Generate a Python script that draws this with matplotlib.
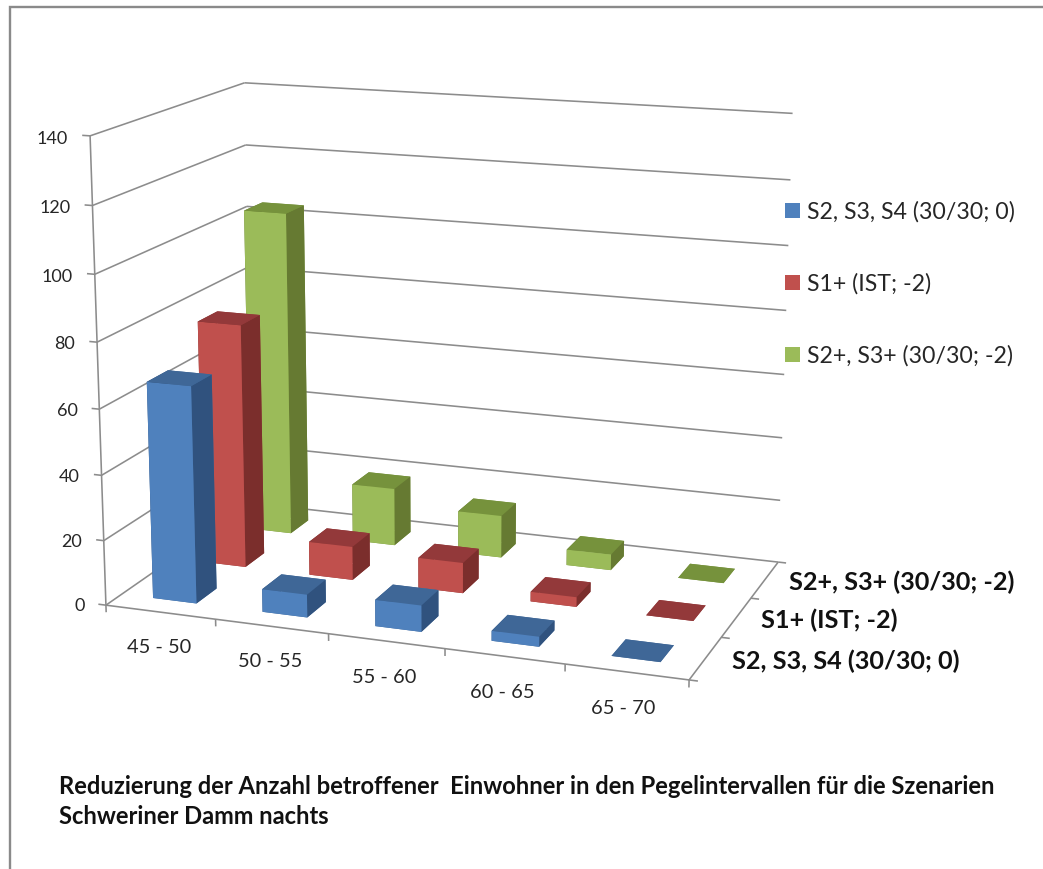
import matplotlib
matplotlib.use('Agg')
import matplotlib.pyplot as plt
from matplotlib.lines import Line2D
from matplotlib.patches import Patch
from mpl_toolkits.mplot3d import proj3d

plt.rcParams['font.family'] = ['Lato', 'DejaVu Sans']

categories = ['45 - 50', '50 - 55', '55 - 60', '60 - 65', '65 - 70']
series_names = ['S2, S3, S4 (30/30; 0)', 'S1+ (IST; -2)', 'S2+, S3+ (30/30; -2)']
blue_values = [66.5, 7, 8, 3, 0]
red_values = [76.5, 10.5, 9.5, 3, 0]
green_values = [104, 18.5, 13.5, 5, 0]
z_ticks = [0, 20, 40, 60, 80, 100, 120, 140]

# front, top, side shade of each series
blue_shades = ['#4F81BD', '#3F6797', '#30527E']
red_shades = ['#C0504D', '#93393A', '#7B2E2C']
green_shades = ['#9BBB59', '#76923C', '#667A32']

title_lines = ['Reduzierung der Anzahl betroffener  Einwohner in den Pegelintervallen für die Szenarien',
               'Schweriner Damm nachts']

W, H = 1043, 869
GRID = '#8C8C8C'
TEXT = '#262626'

fig = plt.figure(figsize=(W/100, H/100), dpi=100)
# camera values fitted to the corners of the original chart box
size = 819.9867
ax = fig.add_axes([0.0277, 0.1026, size/W, size/H], projection='3d', computed_zorder=False)
ax.view_init(elev=14.4337, azim=-70.0908)
ax.set_proj_type('persp', focal_length=0.6062)
ax.set_box_aspect((1.2676, 0.7585, 1), zoom=1)
ax.set_xticks([])
ax.set_yticks([])
ax.set_zticks([])
ax.set_axis_off()

n_cat = len(categories)
n_ser = len(series_names)
z_max = z_ticks[-1]


def line3d(xs, ys, zs, lw=1.15):
    ax.plot(xs, ys, zs, color=GRID, lw=lw, zorder=1, solid_capstyle='butt')


# walls and floor
for z in z_ticks:
    line3d([-0.07, 0, 0], [0, 0, n_ser], [z, z, z])
    line3d([0, n_cat], [n_ser, n_ser], [z, z])
line3d([0, 0], [0, 0], [0, z_max])
line3d([0, n_cat], [0, 0], [0, 0])
line3d([n_cat, n_cat], [0, n_ser], [0, 0])
for i in range(n_cat + 1):
    line3d([i, i], [0, 0], [0, -2.2])
for k in range(n_ser + 1):
    line3d([n_cat, n_cat + 0.07], [k, k], [0, 0])

# bars, far series first so the nearer ones cover them
bar_w = 0.40
bar_d = 0.40
series = [(blue_values, blue_shades), (red_values, red_shades), (green_values, green_shades)]
order = 2
for k in reversed(range(n_ser)):
    values, (front, top, side) = series[k]
    for i, v in enumerate(values):
        faces = [top, top, front, top, side, side]
        ax.bar3d(i + 0.29, k + 0.295, 0, bar_w, bar_d, v, color=faces,
                 shade=False, linewidth=0, zorder=order)
        order += 1

ax.set_xlim(0, n_cat, view_margin=0)
ax.set_ylim(0, n_ser, view_margin=0)
ax.set_zlim(0, z_max, view_margin=0)
ax.apply_aspect()
M = ax.get_proj()


# labels are placed in 3d but drawn as plain 2d text
def label3d(x, y, z, s, **kw):
    x2, y2, _ = proj3d.proj_transform(x, y, z, M)
    ax.text2D(x2, y2, s, transform=ax.transData, **kw)


for z in z_ticks:
    label3d(-0.2, 0, z - 1.2, str(z), ha='right', va='center', fontsize=13, color=TEXT)
for i, c in enumerate(categories):
    label3d(i + 0.48, 0, -11, c, ha='center', va='center', fontsize=14.4, color=TEXT)
for k, name in enumerate(series_names):
    label3d(n_cat + 0.21, k + 0.5, 0, name, ha='left', va='center', fontsize=18.2,
            fontweight='bold', color='#111111')

handles = [Patch(facecolor=s[1][0], edgecolor='none', label=n) for s, n in zip(series, series_names)]
fig.legend(handles=handles, loc='upper left', bbox_to_anchor=(785/W, 1 - 201/H), frameon=False,
           fontsize=16.7, labelcolor=TEXT, handlelength=0.65, handleheight=0.65, handletextpad=0.28,
           labelspacing=2.18, borderpad=0, borderaxespad=0)

fig.text(59/W, 1 - 786/H, title_lines[0], fontsize=17.1, fontweight='bold', color='#111111', va='center')
fig.text(59/W, 1 - 817/H, title_lines[1], fontsize=17.1, fontweight='bold', color='#111111', va='center')

# outer frame: only top and left are visible in the screenshot
fig.add_artist(Line2D([9.5/W, 9.5/W, 1], [0, 1 - 7/H, 1 - 7/H], color='#8A8A8A', lw=1.7,
                      solid_joinstyle='miter'))

fig.savefig('out.png', dpi=100)
